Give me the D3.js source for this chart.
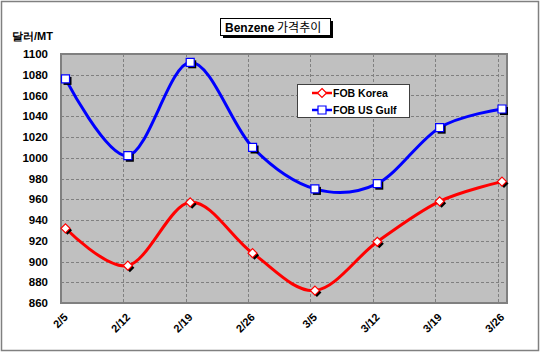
<!DOCTYPE html>
<html>
<head>
<meta charset="utf-8">
<script src="https://cdn.jsdelivr.net/npm/d3@7"></script>
<style>
  body { margin: 0; background: #fff; }
  text { font-family: Arial, "Liberation Sans", sans-serif; }
</style>
</head>
<body>
<div id="chart-area"></div>
<script>
// Data
const dates = ['2/5', '2/12', '2/19', '2/26', '3/5', '3/12', '3/19', '3/26'];
const korea = [932, 896, 957, 908, 872, 919, 958, 977];
const usGulf = [1076, 1002, 1092, 1010, 970, 975, 1029, 1047];
const yTicks = [860, 880, 900, 920, 940, 960, 980, 1000, 1020, 1040, 1060, 1080, 1100];

const W = 540, H = 355;
const plot = { left: 61, right: 507, top: 54, bottom: 303 };

const svg = d3.select('#chart-area')
    .append('svg')
    .attr('width', W)
    .attr('height', H);

// Outer frame
svg.append('rect')
    .attr('x', 1.5).attr('y', 1.5)
    .attr('width', 537).attr('height', 349)
    .attr('fill', '#fff')
    .attr('stroke', '#808080')
    .attr('stroke-width', 1.5);

// Scales
const x = d3.scalePoint()
    .domain(dates)
    .range([65.5, 502]);
const tickOffset = -4.5;

const y = d3.scaleLinear()
    .domain([860, 1100])
    .range([plot.bottom, plot.top]);

// Plot area
svg.append('rect')
    .attr('x', plot.left).attr('y', plot.top)
    .attr('width', plot.right - plot.left)
    .attr('height', plot.bottom - plot.top)
    .attr('fill', '#c0c0c0');

// Horizontal grid
svg.append('g')
    .selectAll('line')
    .data(yTicks.slice(1, -1))
    .enter()
    .append('line')
    .attr('x1', plot.left).attr('x2', plot.right)
    .attr('y1', (d) => Math.round(y(d)) + 0.5)
    .attr('y2', (d) => Math.round(y(d)) + 0.5)
    .attr('stroke', '#808080')
    .attr('stroke-dasharray', '3,2');

// Vertical grid
svg.append('g')
    .selectAll('line')
    .data(dates.slice(1))
    .enter()
    .append('line')
    .attr('x1', (d) => Math.round(x(d) + tickOffset) + 0.5)
    .attr('x2', (d) => Math.round(x(d) + tickOffset) + 0.5)
    .attr('y1', plot.top).attr('y2', plot.bottom)
    .attr('stroke', '#808080')
    .attr('stroke-dasharray', '3,2');

// Plot border
svg.append('rect')
    .attr('x', plot.left).attr('y', plot.top)
    .attr('width', plot.right - plot.left)
    .attr('height', plot.bottom - plot.top)
    .attr('fill', 'none')
    .attr('stroke', '#808080')
    .attr('stroke-width', 2);

// Y axis labels
const yAxis = d3.axisLeft(y)
    .tickValues(yTicks)
    .tickFormat(d3.format('d'))
    .tickSize(0)
    .tickPadding(0);
const yg = svg.append('g')
    .attr('transform', 'translate(48, 0)')
    .call(yAxis);
yg.select('.domain').remove();
yg.selectAll('text')
    .attr('font-size', '11.5px')
    .attr('font-weight', 'bold')
    .attr('fill', '#000')
    .attr('font-family', 'Arial, "Liberation Sans", sans-serif');

// X axis labels
const xAxis = d3.axisBottom(x)
    .tickSize(0)
    .tickPadding(0);
const xg = svg.append('g')
    .call(xAxis);
xg.select('.domain').remove();
xg.selectAll('.tick').attr('transform', null);
xg.selectAll('text')
    .attr('text-anchor', 'end')
    .attr('dy', null)
    .attr('y', null)
    .attr('transform', (d) => 'translate(' + (x(d) + 3) + ', 318) rotate(-45)')
    .attr('font-size', '11px')
    .attr('font-weight', 'bold')
    .attr('fill', '#000')
    .attr('font-family', 'Arial, "Liberation Sans", sans-serif');

// Y unit label
svg.append('text')
    .attr('x', 12).attr('y', 40)
    .attr('font-size', '11px')
    .attr('font-weight', 'bold')
    .text('달러/MT');

// Lines
const line = d3.line()
    .x((d, i) => x(dates[i]))
    .y((d) => y(d))
    .curve(d3.curveCardinal.tension(0));

const series = [
    { name: 'FOB Korea', values: korea, color: '#ff0000', shape: 'diamond' },
    { name: 'FOB US Gulf', values: usGulf, color: '#0000ff', shape: 'square' }
];

function markerPath(shape, cx, cy) {
    if (shape === 'square') {
        return 'M' + (cx - 4) + ',' + (cy - 4) + 'h8v8h-8z';
    }
    return 'M' + cx + ',' + (cy - 4.5) + 'L' + (cx + 4.5) + ',' + cy +
        'L' + cx + ',' + (cy + 4.5) + 'L' + (cx - 4.5) + ',' + cy + 'Z';
}

series.forEach((s) => {
    svg.append('path')
        .datum(s.values)
        .attr('d', line)
        .attr('fill', 'none')
        .attr('stroke', s.color)
        .attr('stroke-width', 3);

    const mg = svg.append('g');
    // shadows
    mg.selectAll('.shadow')
        .data(s.values)
        .enter()
        .append('path')
        .attr('class', 'shadow')
        .attr('d', (d, i) => markerPath(s.shape, x(dates[i]) + 2, y(d) + 2))
        .attr('fill', '#000');
    mg.selectAll('.marker')
        .data(s.values)
        .enter()
        .append('path')
        .attr('class', 'marker')
        .attr('d', (d, i) => markerPath(s.shape, x(dates[i]), y(d)))
        .attr('fill', '#fff')
        .attr('stroke', s.color)
        .attr('stroke-width', 1.2);
});

// Legend
const lg = svg.append('g');
lg.append('rect')
    .attr('x', 297.5).attr('y', 84.5)
    .attr('width', 112).attr('height', 33)
    .attr('fill', '#fff')
    .attr('stroke', '#404040');
series.forEach((s, i) => {
    const ly = 93 + i * 17;
    lg.append('line')
        .attr('x1', 312).attr('x2', 332)
        .attr('y1', ly).attr('y2', ly)
        .attr('stroke', s.color)
        .attr('stroke-width', 2.5);
    lg.append('path')
        .attr('d', markerPath(s.shape, 322, ly))
        .attr('fill', '#fff')
        .attr('stroke', s.color)
        .attr('stroke-width', 1.2);
    lg.append('text')
        .attr('x', 333).attr('y', ly + 4)
        .attr('font-size', '10.5px')
        .attr('font-weight', 'bold')
        .text(s.name);
});

// Title
svg.append('rect')
    .attr('x', 223).attr('y', 21)
    .attr('width', 110).attr('height', 17)
    .attr('fill', '#000');
svg.append('rect')
    .attr('x', 220.5).attr('y', 18.5)
    .attr('width', 110).attr('height', 17)
    .attr('fill', '#fff')
    .attr('stroke', '#000');
svg.append('text')
    .attr('x', 225).attr('y', 32)
    .attr('font-size', '12px')
    .attr('font-weight', 'bold')
    .text('Benzene')
    .append('tspan')
    .attr('font-weight', 'normal')
    .attr('font-family', '"Noto Sans CJK KR", sans-serif')
    .text(' 가격추이');
</script>
</body>
</html>
